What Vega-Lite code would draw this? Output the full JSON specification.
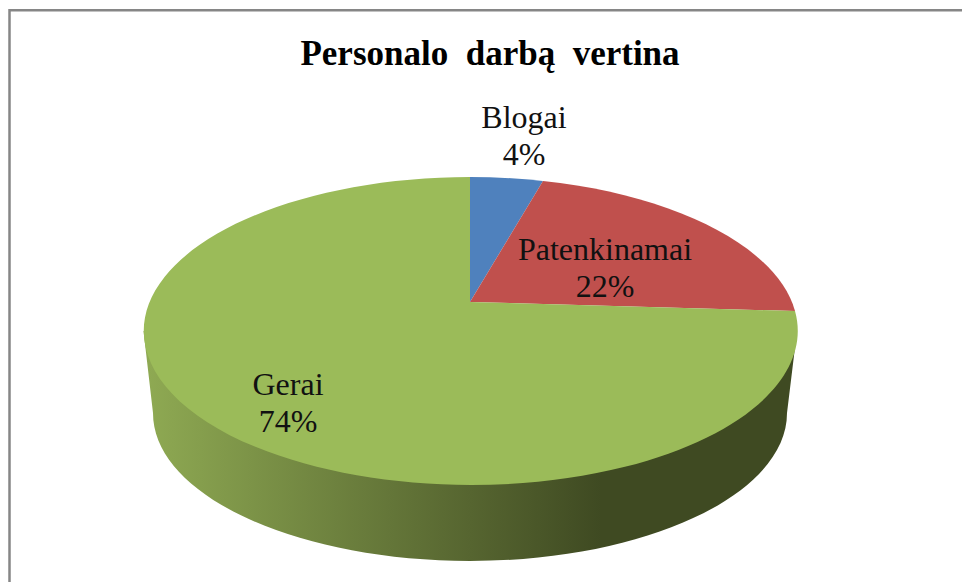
{
  "$schema": "https://vega.github.io/schema/vega-lite/v6.json",
  "width": 962,
  "height": 582,
  "autosize": "none",
  "padding": 0,
  "background": "white",
  "config": {"view": {"stroke": null}},
  "title": {
    "text": "Personalo\u00a0 darbą\u00a0 vertina",
    "font": "Liberation Serif",
    "fontSize": 35,
    "fontWeight": "bold",
    "color": "#000000",
    "anchor": "middle",
    "dx": 9,
    "offset": -72
  },
  "data": {
    "values": [
      {"category": "Blogai", "value": 4},
      {"category": "Patenkinamai", "value": 22},
      {"category": "Gerai", "value": 74}
    ]
  },
  "transform": [
    {"calculate": "datum.category + '\\n' + datum.value + '%'", "as": "label"}
  ],
  "layer": [
    {
      "data": {"values": [{"part": "frame"}]},
      "transform": [],
      "mark": {
        "type": "point",
        "filled": false,
        "opacity": 1,
        "size": 4,
        "stroke": "#868686",
        "strokeWidth": 2.5,
        "shape": "M-471.5,291 L-471.5,-280.7 L481,-280.7"
      },
      "encoding": {}
    },
    {
      "transform": [{"filter": "datum.category === 'Gerai'"}],
      "mark": {
        "type": "point",
        "filled": true,
        "opacity": 1,
        "size": 4,
        "shape": "M-337.5,40 L-328,122 A317,148 0 0 0 306,122 L316,40 Z",
        "fill": {
          "gradient": "linear",
          "x1": 0, "y1": 0, "x2": 1, "y2": 0,
          "stops": [
            {"offset": 0, "color": "#8FAA53"},
            {"offset": 0.5, "color": "#566530"},
            {"offset": 0.7, "color": "#3F4A22"},
            {"offset": 1, "color": "#3F4A22"}
          ]
        }
      },
      "encoding": {}
    },
    {
      "mark": {"type": "point", "filled": true, "opacity": 1, "size": 4},
      "encoding": {
        "shape": {
          "field": "category",
          "type": "nominal",
          "legend": null,
          "scale": {
            "domain": ["Blogai", "Patenkinamai", "Gerai"],
            "range": [
              "M-11,11 L-11,-114 A327,154 0 0 1 62,-110 Z",
              "M-11,11 L62,-110 A327,154 0 0 1 314,20 Z",
              "M-11,11 L314,20 A327,154 0 1 1 -11,-114 Z"
            ]
          }
        },
        "color": {
          "field": "category",
          "type": "nominal",
          "legend": null,
          "scale": {
            "domain": ["Blogai", "Patenkinamai", "Gerai"],
            "range": ["#4F81BD", "#C0504D", "#9BBB59"]
          }
        }
      }
    },
    {
      "transform": [{"filter": "datum.category === 'Blogai'"}],
      "mark": {"type": "text", "font": "Liberation Serif", "fontSize": 32, "lineBreak": "\n", "lineHeight": 37, "color": "#111111", "dx": 43, "dy": -173},
      "encoding": {"text": {"field": "label", "type": "nominal"}}
    },
    {
      "transform": [{"filter": "datum.category === 'Patenkinamai'"}],
      "mark": {"type": "text", "font": "Liberation Serif", "fontSize": 32, "lineBreak": "\n", "lineHeight": 37, "color": "#111111", "dx": 124, "dy": -41},
      "encoding": {"text": {"field": "label", "type": "nominal"}}
    },
    {
      "transform": [{"filter": "datum.category === 'Gerai'"}],
      "mark": {"type": "text", "font": "Liberation Serif", "fontSize": 32, "lineBreak": "\n", "lineHeight": 37, "color": "#111111", "dx": -193, "dy": 94},
      "encoding": {"text": {"field": "label", "type": "nominal"}}
    }
  ]
}
